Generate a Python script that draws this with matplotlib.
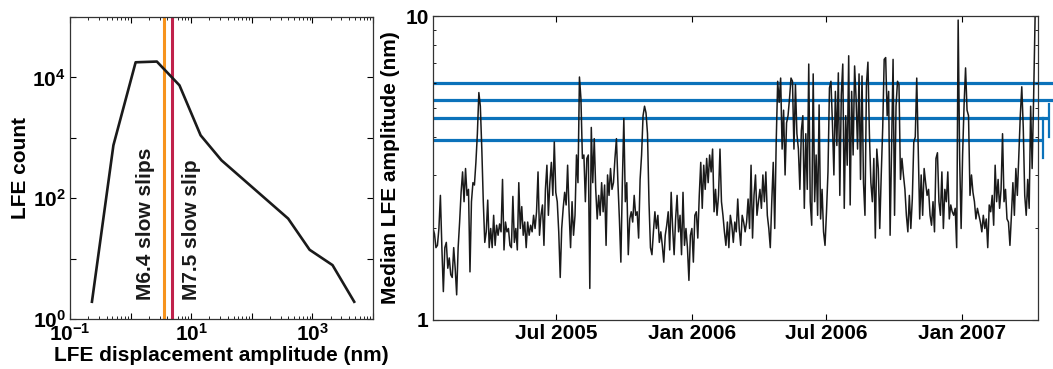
import numpy as np
import matplotlib
matplotlib.use("Agg")
import matplotlib.pyplot as plt
import matplotlib.dates as mdates
from matplotlib.ticker import LogLocator, FuncFormatter, NullFormatter

plt.rcParams['font.family'] = 'Liberation Sans'
plt.rcParams['font.weight'] = 'bold'
plt.rcParams['axes.labelweight'] = 'bold'
plt.rcParams['mathtext.fontset'] = 'custom'
plt.rcParams['mathtext.rm'] = 'Liberation Sans:bold'
plt.rcParams['mathtext.it'] = 'Liberation Sans:bold'
plt.rcParams['mathtext.bf'] = 'Liberation Sans:bold'
plt.rcParams['font.size'] = 15

# left panel: LFE amplitude distribution
amp_nm = [0.23, 0.52, 1.21, 2.71, 6.4, 14.3, 31.6, 398, 900, 2150, 4900]
lfe_count = [1.93, 752, 17800, 18300, 7400, 1100, 424, 46, 14, 7.8, 1.93]
slip_amp = [3.6, 4.8]
slip_labels = ['M6.4 slow slips', 'M7.5 slow slip']
slip_colors = ['#F7941D', '#C0224B']

# right panel: median LFE amplitude, one value every 2 days
start_date = np.datetime64('2005-01-16')
step_days = 2
median_amp = [
    2.0, 1.92, 1.73, 1.76, 2.0, 2.57, 1.73, 1.24, 1.73, 1.8, 1.48, 1.6, 1.41, 1.38, 1.73, 1.48, 1.21,
    1.73, 2.1, 2.63, 3.07, 2.45, 3.15, 2.57, 2.69, 1.44, 2.45, 2.83, 2.78, 3.3, 4.1, 5.6, 5.05, 3.65,
    2.45, 1.8, 1.95, 2.48, 1.73, 2.0, 1.73, 2.21, 1.76, 2.05, 1.9, 2.07, 1.95, 2.9, 1.7, 2.1, 1.95,
    2.0, 1.76, 1.73, 2.55, 1.8, 2.0, 1.7, 2.83, 2.0, 2.36, 1.9, 2.1, 1.73, 2.1, 1.9, 2.05, 1.95,
    2.21, 2.0, 2.27, 3.07, 1.9, 2.21, 2.39, 1.76, 2.69, 3.23, 2.21, 2.83, 3.3, 2.57, 3.85, 2.63, 2.45,
    1.95, 1.38, 2.0, 2.33, 2.63, 2.39, 3.23, 2.27, 1.73, 2.45, 1.9, 2.21, 3.49, 2.83, 6.3, 5.35, 3.4,
    3.49, 2.45, 3.4, 3.49, 1.27, 4.3, 2.83, 3.95, 2.69, 2.15, 2.57, 2.21, 2.83, 2.27, 2.78, 1.76, 3.0,
    2.57, 3.15, 2.69, 2.83, 3.4, 3.95, 2.83, 2.15, 1.55, 2.83, 4.6, 2.45, 2.83, 1.64, 2.15, 2.27, 2.1,
    2.57, 2.21, 2.27, 1.86, 2.9, 3.49, 4.7, 5.05, 4.8, 4.1, 2.45, 1.73, 1.64, 1.95, 2.27, 2.0, 2.21,
    1.8, 1.95, 1.76, 1.55, 1.9, 2.05, 2.27, 1.7, 2.63, 2.0, 1.64, 2.15, 2.57, 1.95, 2.21, 1.64, 2.63,
    1.76, 2.0, 1.73, 1.35, 1.9, 2.0, 1.55, 2.21, 2.27, 1.86, 2.57, 3.3, 2.33, 3.23, 2.69, 3.4, 2.83,
    3.49, 3.07, 3.65, 2.27, 2.69, 2.21, 2.57, 3.65, 2.45, 2.21, 1.95, 1.76, 2.1, 1.73, 2.21, 2.05, 1.8,
    2.1, 1.95, 2.5, 2.0, 1.76, 2.21, 2.1, 1.95, 2.1, 2.5, 2.0, 3.23, 1.86, 2.57, 3.0, 2.21, 2.45,
    2.69, 2.33, 3.0, 2.45, 3.07, 2.21, 2.0, 1.73, 2.45, 3.3, 2.0, 3.85, 6.1, 5.2, 6.25, 3.65, 4.9,
    3.0, 4.45, 4.7, 5.35, 6.25, 6.1, 3.65, 5.95, 4.1, 3.65, 2.69, 4.2, 4.7, 2.33, 4.1, 2.69, 6.95,
    2.45, 2.05, 6.45, 2.45, 3.49, 2.21, 5.1, 2.15, 2.69, 1.95, 1.76, 2.27, 3.07, 5.8, 6.1, 4.45, 3.0,
    5.65, 3.75, 6.5, 2.57, 5.5, 6.95, 2.33, 4.7, 3.23, 7.4, 2.39, 5.65, 3.49, 6.85, 5.35, 3.65, 6.45,
    2.9, 6.35, 2.83, 2.21, 5.95, 7.05, 4.1, 2.83, 2.45, 3.4, 1.86, 3.65, 3.15, 2.0, 3.0, 4.3, 7.2,
    7.3, 4.7, 5.65, 1.9, 3.65, 7.2, 2.21, 5.05, 6.1, 5.95, 2.9, 3.4, 3.0, 2.69, 2.21, 1.95, 2.57,
    2.0, 2.5, 3.85, 4.0, 6.25, 3.65, 2.15, 3.0, 2.21, 3.15, 2.83, 2.57, 2.69, 2.21, 2.05, 2.45, 1.95,
    3.4, 3.55, 2.45, 2.21, 3.07, 2.0, 2.69, 2.45, 3.07, 2.15, 2.39, 2.27, 2.21, 2.33, 1.73, 9.7, 3.4,
    2.0, 3.49, 5.1, 6.75, 4.9, 4.7, 2.57, 3.0, 2.63, 2.45, 2.15, 2.33, 2.21, 2.1, 1.95, 2.21, 2.0,
    2.15, 1.73, 2.39, 2.27, 2.57, 2.05, 3.23, 2.45, 2.9, 2.33, 2.69, 4.1, 2.45, 2.69, 2.15, 2.1, 1.76,
    2.21, 2.83, 2.21, 3.15, 2.57, 3.49, 4.7, 5.85, 4.3, 2.57, 2.21, 2.9, 2.33, 5.05, 3.15, 5.35, 9.9,
]
levels = [6.0, 5.3, 4.63, 3.91]
level_ends = ['2007-05-06', '2007-05-06', '2007-04-29', '2007-04-21']
bar_dates = ['2007-04-21', '2007-04-29']
bar_lo = [3.41, 4.0]
bar_hi = [4.63, 5.13]

dates = start_date + np.arange(len(median_amp)) * np.timedelta64(step_days, 'D')

fig = plt.figure(figsize=(10.53, 3.69), dpi=100)
ax1 = fig.add_axes([0.0665, 0.1355, 0.2877, 0.8184])
ax2 = fig.add_axes([0.4112, 0.1328, 0.5746, 0.8238])

# ---- left panel
ax1.plot(amp_nm, lfe_count, color='#1a1a1a', lw=1.9, zorder=3)
for a, c in zip(slip_amp, slip_colors):
    ax1.axvline(a, color=c, lw=2.2, zorder=2)
ax1.text(1.73, 2.1, slip_labels[0], rotation=90, ha='center', va='bottom', color='#1a1a1a')
ax1.text(10.3, 2.1, slip_labels[1], rotation=90, ha='center', va='bottom', color='#1a1a1a')
ax1.set_xscale('log')
ax1.set_yscale('log')
ax1.set_xlim(0.1, 1e4)
ax1.set_ylim(1, 1e5)
ax1.xaxis.set_major_locator(LogLocator(base=10, numticks=10))
ax1.xaxis.set_minor_locator(LogLocator(base=10, subs=np.arange(2, 10), numticks=10))
ax1.xaxis.set_minor_formatter(NullFormatter())
ax1.yaxis.set_major_locator(LogLocator(base=10, numticks=10))
ax1.yaxis.set_minor_locator(LogLocator(base=10, subs=[], numticks=10))
ax1.xaxis.set_major_formatter(FuncFormatter(
    lambda v, p: '$10^{%d}$' % round(np.log10(v)) if round(np.log10(v)) in (-1, 1, 3) else ''))
ax1.yaxis.set_major_formatter(FuncFormatter(
    lambda v, p: '$10^{%d}$' % round(np.log10(v)) if round(np.log10(v)) in (0, 2, 4) else ''))
ax1.set_xlabel('LFE displacement amplitude (nm)', labelpad=1)
ax1.set_ylabel('LFE count', labelpad=2)

# ---- right panel
for lv, end in zip(levels, level_ends):
    ax2.plot([dates[0], np.datetime64(end)], [lv, lv], color='#0B72BA', lw=2.3,
             clip_on=False, zorder=1, solid_capstyle='butt')
for d, lo, hi in zip(bar_dates, bar_lo, bar_hi):
    ax2.plot([np.datetime64(d)] * 2, [lo, hi], color='#0B72BA', lw=1.6,
             clip_on=False, zorder=1)
ax2.plot(dates, median_amp, color='#1a1a1a', lw=1.1, zorder=2)
ax2.set_yscale('log')
ax2.set_ylim(1, 10)
ax2.set_xlim(np.datetime64('2005-01-16'), np.datetime64('2007-04-14'))
ax2.xaxis.set_major_locator(mdates.MonthLocator(bymonth=[1, 7]))
ax2.xaxis.set_major_formatter(mdates.DateFormatter('%b %Y'))
ax2.yaxis.set_major_locator(LogLocator(base=10, numticks=5))
ax2.yaxis.set_minor_locator(LogLocator(base=10, subs=np.arange(2, 10), numticks=5))
ax2.yaxis.set_minor_formatter(NullFormatter())
ax2.yaxis.set_major_formatter(FuncFormatter(lambda v, p: '%g' % v))
ax2.set_ylabel('Median LFE amplitude (nm)', labelpad=4)

for ax in (ax1, ax2):
    ax.tick_params(which='both', direction='in', top=True, right=True, pad=3)
    ax.tick_params(which='major', length=4, width=0.8)
    ax.tick_params(which='minor', length=2, width=0.6)
    for s in ax.spines.values():
        s.set_linewidth(0.9)
        s.set_color('#333333')

fig.savefig('out.png', dpi=100)
